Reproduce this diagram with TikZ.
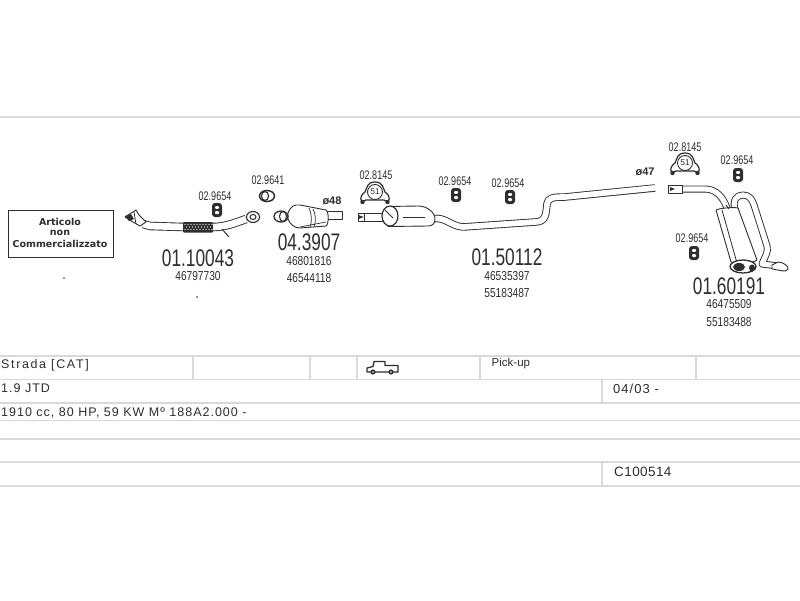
\documentclass[tikz,border=0pt]{standalone}
\usepackage{fontspec}
\setmainfont{Liberation Sans}
\newfontfamily\labelfont{DejaVu Sans}
\definecolor{ink}{HTML}{2E2E2E}
\definecolor{rule}{HTML}{D9D9D9}
\tikzset{
  bigno/.style={font=\fontsize{24}{24}\selectfont,text=ink,xscale=.72,transform shape,inner sep=0pt},
  midno/.style={font=\fontsize{13}{13}\selectfont,text=ink,xscale=.78,transform shape,inner sep=0pt},
  smallno/.style={font=\fontsize{12.5}{12.5}\selectfont,text=ink,xscale=.72,transform shape,inner sep=0pt},
  dia/.style={font=\bfseries\fontsize{11}{11}\selectfont,text=ink,inner sep=0pt},
  rowtext/.style={font=\fontsize{12.5}{12.5}\selectfont\addfontfeatures{LetterSpace=8},text=ink,anchor=west,inner sep=0pt},
  wide/.style={font=\fontsize{12.5}{12.5}\selectfont\addfontfeatures{LetterSpace=13},text=ink,anchor=west,inner sep=0pt},
  narrowtext/.style={font=\fontsize{11.5}{11.5}\selectfont,text=ink,anchor=west,inner sep=0pt},
  datetext/.style={font=\fontsize{13}{13}\selectfont\addfontfeatures{LetterSpace=8},text=ink,anchor=west,inner sep=0pt},
  codetext/.style={font=\fontsize{13.5}{13.5}\selectfont\addfontfeatures{LetterSpace=3},text=ink,anchor=west,inner sep=0pt},
  boxtext/.style={font=\labelfont\bfseries\fontsize{9.5}{9.5}\selectfont,text=ink,inner sep=0pt},
  tablerule/.style={draw=rule,line width=1.6pt},
  part/.style={draw=ink,line width=.9pt,fill=white,line join=round},
  hanger/.pic={
    \fill[ink,rounded corners=3pt] (-5,-7) rectangle (5,7);
    \fill[white,rounded corners=1pt] (-2,-4) rectangle (2,-1.2);
    \fill[white,rounded corners=1pt] (-2,1.2) rectangle (2,4);
  },
  clampshape/.pic={
    \draw[ink,line width=1.2pt,fill=white,line join=round]
      (-13,10) .. controls (-16,6) and (-13,2) .. (-10,0)
      .. controls (-8,-4) and (-8,-10) .. (0,-10)
      .. controls (8,-10) and (8,-4) .. (10,0)
      .. controls (13,2) and (16,6) .. (13,10)
      -- (9,8) -- (-9,8) -- cycle;
    \fill[ink] (-12.5,10) circle (2.2) (12.5,10) circle (2.2);
    \draw[ink,line width=.9pt,fill=white] (0,0) circle (7.5);
    \node[inner sep=0pt,text=ink,font=\fontsize{8.5}{8.5}\selectfont] (-num) at (0,0) {51};
  },
}
\begin{document}
\begin{tikzpicture}[x=1pt,y=-1pt]
\useasboundingbox (0,0) rectangle (800,600);
\fill[white] (0,0) rectangle (800,600);

% frame and table
\draw[tablerule] (0,117) -- (800,117);
\foreach \yy in {356,379.5,403,420.5,439,462,486} \draw[tablerule] (0,\yy) -- (800,\yy);
\foreach \xx in {193,310,357,480,696} \draw[tablerule] (\xx,356) -- (\xx,379.5);
\draw[tablerule] (602,379.5) -- (602,403);
\draw[tablerule] (602,462) -- (602,486);

% not-sold box
\node[draw=ink,line width=.9pt,fill=white,minimum width=105pt,minimum height=47pt,inner sep=0pt] (box) at (60.5,233.5) {};
\node[boxtext] (b1) at (60,221.5) {Articolo};
\node[boxtext] (b2) at (60,233) {non};
\node[boxtext] (b3) at (60,244) {Commercializzato};
\fill[ink] (64,278) circle (.8) (197,297) circle (.8);

% front pipe 01.10043
\draw[ink,line width=8.5pt,line cap=butt] (143,224) -- (150,226) -- (184,227);
\draw[white,line width=6.7pt,line cap=butt] (143,224) -- (150,226) -- (184,227);
\draw[part] (125,217) -- (136,210) -- (139,215) -- (146,222) -- (140,226) -- (133,222) -- cycle;
\fill[ink] (125,216) -- (131,214) -- (134,219) -- (129,221) -- cycle;
\draw[ink,line width=.8pt] (134,212) -- (136,224);
\draw[ink,line width=8.5pt] (213,227) .. controls (225,227) and (235,223) .. (246,219);
\draw[white,line width=6.7pt] (213,227) .. controls (225,227) and (235,223) .. (246,219);
\fill[ink,rounded corners=1pt] (183,222) rectangle (213,232.5);
\foreach \dx in {0,3,...,27} {
  \fill[white] (185+\dx,224.5) circle (.55) (186.5+\dx,227) circle (.55) (185+\dx,229.5) circle (.55);
}
\draw[ink,line width=.9pt] (222,229) -- (229,237);
\draw[part,line width=1.1pt] (253,217) ellipse (6.5 and 5.5);
\draw[ink,line width=1pt] (253,217) ellipse (3 and 2.5);
\pic (h1) at (217,210) {hanger};
\node[smallno] (l1) at (215,196) {02.9654};
\node[bigno] (n1) at (198,258) {01.10043};
\node[midno] (m1) at (198,276) {46797730};

% ring 02.9641
\node[smallno] (l2) at (268,180) {02.9641};
\draw[ink,line width=1.5pt] (267,196) ellipse (7.5 and 5.5);
\draw[ink,line width=1.1pt] (265,196) ellipse (3.5 and 4.5);

% catalyst 04.3907
\draw[part] (326,211.5) rectangle (342,219);
\draw[part] (288,213) .. controls (290,207) and (294,204) .. (300,205) -- (326,210)
  .. controls (329,212) and (329,224) .. (326,226) -- (300,228) .. controls (294,228) and (290,224) .. (288,219) -- cycle;
\draw[ink,line width=.7pt] (309,208) .. controls (312,214) and (312,222) .. (310,227);
\draw[ink,line width=.7pt] (313,209) .. controls (316,214) and (316,222) .. (314,227);
\draw[ink,line width=.7pt] (300,227) -- (326,222);
\draw[part,line width=1.3pt] (281,216.5) ellipse (7 and 5.5);
\draw[ink,line width=1.1pt] (283,216.5) ellipse (3.5 and 5);
\node[dia] (d1) at (332,201) {ø48};
\node[bigno] (n2) at (309,242.5) {04.3907};
\node[midno] (m2a) at (309,261) {46801816};
\node[midno] (m2b) at (309,278.5) {46544118};

% centre section 01.50112
\draw[ink,line width=7.5pt,line join=round] (432,219) .. controls (445,216) and (450,226) .. (463,227)
  -- (535,222) .. controls (546,222) and (546,214) .. (547,204)
  .. controls (548,198) and (552,197) .. (565,197) -- (655,188);
\draw[white,line width=5.7pt,line join=round,line cap=round] (432,219) .. controls (445,216) and (450,226) .. (463,227)
  -- (535,222) .. controls (546,222) and (546,214) .. (547,204)
  .. controls (548,198) and (552,197) .. (565,197) -- (654,188);
\draw[part] (358,213) rectangle (388,221);
\draw[ink,line width=.8pt] (364,213) -- (364,221);
\draw[ink,fill=ink] (359,215.5) -- (363,217) -- (359,218.5) -- cycle;
\draw[part] (388,206.5) -- (418,206) .. controls (428,206) and (435,213) .. (435,219)
  .. controls (435,224) and (432,226) .. (428,226) -- (388,226.5) -- cycle;
\draw[ink,line width=.8pt] (403,217) -- (425,217);
\draw[part,line width=1.2pt] (390,216) ellipse (8 and 10);
\draw[ink,line width=.9pt] (385,210) -- (393,218);
\pic (c1) at (375,192) {clampshape};
\node[smallno] (l3) at (376,175) {02.8145};
\pic (h2) at (456,195) {hanger};
\node[smallno] (l4) at (455,181) {02.9654};
\pic (h3) at (510,197) {hanger};
\node[smallno] (l5) at (508,183) {02.9654};
\node[bigno] (n3) at (507,257) {01.50112};
\node[midno] (m3a) at (507,276) {46535397};
\node[midno] (m3b) at (507,293) {55183487};
\node[dia] (d2) at (645,172) {ø47};

% rear section 01.60191
\draw[ink,line width=7pt] (682,189) -- (705,189) .. controls (716,189) and (723,197) .. (727,208);
\draw[white,line width=5.2pt] (680,189) -- (705,189) .. controls (716,189) and (723,197) .. (727,208);
\draw[part] (668,185.5) rectangle (682,193);
\fill[ink] (670,187) -- (675,189) -- (670,191) -- cycle;
\draw[ink,line width=7pt,line join=round] (736,212) .. controls (731,200) and (737,195) .. (743,195)
  .. controls (749,195) and (752,199) .. (754,205) -- (767,246)
  .. controls (769,252) and (764,258) .. (762,264) -- (778,266);
\draw[white,line width=5.2pt,line join=round] (736,212) .. controls (731,200) and (737,195) .. (743,195)
  .. controls (749,195) and (752,199) .. (754,205) -- (767,246)
  .. controls (769,252) and (764,258) .. (762,264) -- (778,266);
\draw[part] (778,262) .. controls (784,262) and (789,267) .. (788,269)
  .. controls (786,273) and (780,270) .. (772,269) -- (772,265) -- cycle;
\draw[part] (716,210) .. controls (720,208) and (734,207) .. (738,208)
  -- (757,260) .. controls (752,264) and (737,264) .. (731,262) -- cycle;
\draw[ink,line width=.8pt] (722,210) -- (737,263);
\draw[ink,line width=.9pt] (726,205) -- (729,209);
\draw[part,line width=1.3pt] (743,266.5) ellipse (13 and 6.5);
\fill[ink] (739,267) ellipse (6 and 4);
\fill[ink] (752,268) ellipse (3 and 3.5);
\pic (c2) at (685,163) {clampshape};
\node[smallno] (l6) at (685,147) {02.8145};
\pic (h4) at (738,175) {hanger};
\node[smallno] (l7) at (737,160) {02.9654};
\pic (h5) at (694,253) {hanger};
\node[smallno] (l8) at (692,238) {02.9654};
\node[bigno] (n4) at (729,286) {01.60191};
\node[midno] (m4a) at (729,304) {46475509};
\node[midno] (m4b) at (729,322) {55183488};

% table texts
\node[wide] (t1) at (1,365) {Strada [CAT]};
\node[rowtext] (t2) at (1,388) {1.9 JTD};
\node[rowtext] (t3) at (1,412.5) {1910 cc, 80 HP, 59 KW Mº 188A2.000 -};
\node[narrowtext] (t4) at (491.5,363.5) {Pick-up};
\node[datetext] (t5) at (613,388.5) {04/03 -};
\node[codetext] (t6) at (614,472) {C100514};

% pick-up icon
\draw[ink,line width=1.3pt,line join=round] (367,372) -- (367,368) -- (373,366.5) -- (374,361.5) -- (385,361.5) -- (385,365.5) -- (398,365.5) -- (398,372) -- cycle;
\fill[ink] (373,372) circle (2.6) (391,372) circle (2.6);
\fill[white] (373,372) circle (.9) (391,372) circle (.9);
\end{tikzpicture}
\end{document}
